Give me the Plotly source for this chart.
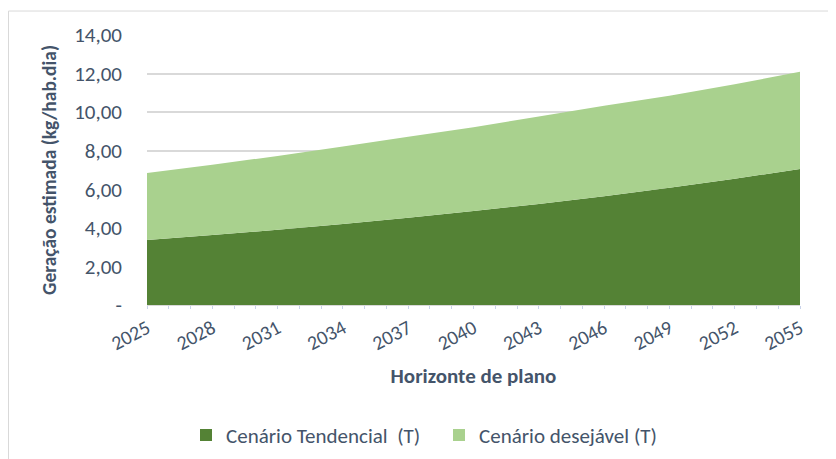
import plotly.graph_objects as go

years = [2025, 2028, 2031, 2034, 2037, 2040, 2043, 2046, 2049, 2052, 2055]
tendencial = [3.37, 3.63, 3.90, 4.20, 4.52, 4.87, 5.24, 5.64, 6.08, 6.55, 7.05]
desejavel = [3.47, 3.64, 3.83, 4.02, 4.21, 4.35, 4.54, 4.69, 4.77, 4.90, 5.04]
ytick_vals = [0, 2, 4, 6, 8, 10, 12, 14]
ytick_text = ["-", "2,00", "4,00", "6,00", "8,00", "10,00", "12,00", "14,00"]
names = ["Cenário Tendencial  (T)", "Cenário desejável (T)"]
colors = ["#548235", "#A9D18E"]

TXT = "#44546A"
FONT = "Carlito, Lato"

fig = go.Figure()
for vals, name, col in zip([tendencial, desejavel], names, colors):
    fig.add_trace(go.Scatter(
        x=years, y=vals, stackgroup="one", mode="none",
        fillcolor=col, name=name, showlegend=False, hoverinfo="x+y",
    ))
# legend entries as square markers
for name, col in zip(names, colors):
    fig.add_trace(go.Scatter(
        x=[None], y=[None], mode="markers", name=name,
        marker=dict(symbol="square", size=12, color=col),
    ))

# the page body has an 8px margin: work in screen px, then offset
OFF = 8
W, H = 836 - OFF, 459 - OFF
L, T = 147 - OFF, 35 - OFF
pw, ph = 653, 270.5
R, B = W - L - pw, H - T - ph

def px_x(p):
    return (p - OFF - L) / pw

def px_y(p):
    return (T + ph - (p - OFF)) / ph

fig.update_layout(
    width=W, height=H,
    margin=dict(l=L, r=R, t=T, b=B, autoexpand=False),
    paper_bgcolor="white", plot_bgcolor="white",
    font=dict(family=FONT, color=TXT, size=20),
    legend=dict(
        orientation="h", x=px_x(186), xanchor="left", y=px_y(436), yanchor="middle",
        font=dict(size=21, color=TXT), itemwidth=30, traceorder="normal",
        entrywidth=208, entrywidthmode="pixels",
    ),
    shapes=[dict(
        type="rect", xref="paper", yref="paper",
        x0=px_x(8.5), x1=px_x(845), y0=px_y(470), y1=px_y(11),
        line=dict(color="#d9d9d9", width=1), fillcolor="rgba(0,0,0,0)", layer="below",
    )],
)

fig.update_xaxes(
    range=[2025, 2055], tickmode="array", tickvals=years,
    ticktext=[str(y) for y in years], tickangle=-28,
    tickfont=dict(size=20, color=TXT), automargin=False,
    showgrid=False, zeroline=False,
    showline=True, linecolor="#d9d9d9", linewidth=1,
    ticks="outside", ticklen=3, tickcolor="#c9d3ea",
    minor=dict(dtick=1, tick0=2025, ticks="outside", ticklen=3, tickcolor="#c9d3ea", showgrid=False),
    title=dict(text="<b>Horizonte de plano</b>", font=dict(size=21, color=TXT), standoff=14),
)
fig.update_yaxes(
    range=[0, 14], tickmode="array", tickvals=ytick_vals, ticktext=ytick_text,
    tickfont=dict(size=21, color=TXT), automargin=False,
    showgrid=True, gridcolor="#d9d9d9", gridwidth=1.5, zeroline=False,
    ticks="", ticklabelstandoff=24,
    title=dict(text="<b>Geração estimada (kg/hab.dia)</b>", font=dict(size=19.5, color=TXT), standoff=12),
)

fig.write_html("out.html")
